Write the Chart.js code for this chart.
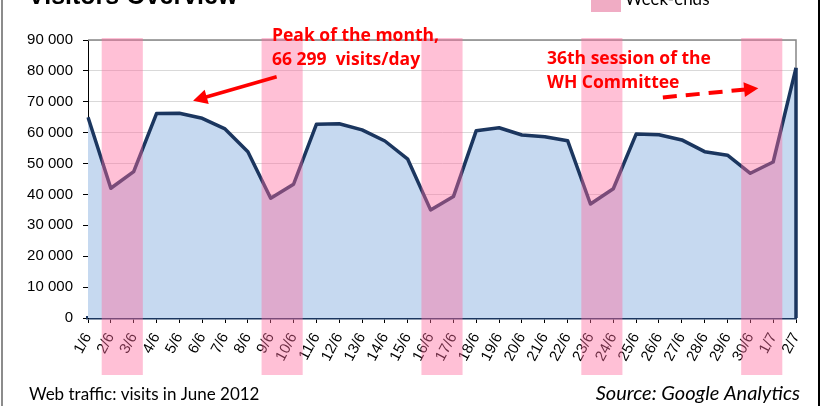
<!DOCTYPE html>
<html>
<head>
<meta charset="utf-8">
<script src="https://cdn.jsdelivr.net/npm/chart.js@4.4.0/dist/chart.umd.min.js"></script>
<style>
  html, body { margin: 0; padding: 0; background: #fff; }
</style>
</head>
<body>
<canvas id="chart" width="825" height="406"></canvas>
<script>
// visits per day, June 2012
let days = ['1/6','2/6','3/6','4/6','5/6','6/6','7/6','8/6','9/6','10/6','11/6','12/6','13/6','14/6','15/6','16/6',
            '17/6','18/6','19/6','20/6','21/6','22/6','23/6','24/6','25/6','26/6','27/6','28/6','29/6','30/6','1/7','2/7'];
let visits = [65000, 42000, 47400, 66200, 66299, 64650, 61200, 53850, 38800, 43300, 62700, 62900, 60900, 57300, 51400, 35000,
              39300, 60650, 61600, 59250, 58700, 57400, 36900, 41850, 59550, 59350, 57650, 53850, 52700, 46850, 50500, 81000];
let weekEnds = [['2/6','3/6'], ['9/6','10/6'], ['16/6','17/6'], ['23/6','24/6'], ['30/6','1/7']];
let yMax = 90000;
let yStep = 10000;

let navy = '#1B365F';
let bandColor = 'rgba(255, 105, 157, 0.42)';
let red = '#FF0000';

let fmt = function (v) {
    return String(v).replace(/\B(?=(\d{3})+(?!\d))/g, ' ');
}

let arrow = function (ctx, x1, y1, x2, y2, dashed) {
    let a = Math.atan2(y2 - y1, x2 - x1);
    let head = 16;
    ctx.save();
    ctx.strokeStyle = red;
    ctx.fillStyle = red;
    ctx.lineWidth = dashed ? 4 : 3.5;
    if (dashed) ctx.setLineDash([14, 9]);
    ctx.beginPath();
    ctx.moveTo(x1, y1);
    ctx.lineTo(x2 - Math.cos(a) * head * 0.8, y2 - Math.sin(a) * head * 0.8);
    ctx.stroke();
    ctx.setLineDash([]);
    ctx.beginPath();
    ctx.moveTo(x2, y2);
    ctx.lineTo(x2 - head * Math.cos(a - 0.48), y2 - head * Math.sin(a - 0.48));
    ctx.lineTo(x2 - head * Math.cos(a + 0.48), y2 - head * Math.sin(a + 0.48));
    ctx.closePath();
    ctx.fill();
    ctx.restore();
}

let overlay = {
    id: 'overlay',
    beforeDraw: function (chart) {
        let ctx = chart.ctx;
        ctx.save();
        ctx.fillStyle = '#fff';
        ctx.fillRect(0, 0, chart.width, chart.height);
        ctx.restore();
    },
    afterDraw: function (chart) {
        let ctx = chart.ctx;
        let x = chart.scales.x;
        let y = chart.scales.y;
        let area = chart.chartArea;
        let step = x.getPixelForValue(1) - x.getPixelForValue(0);

        ctx.save();
        // plot frame (top + right)
        ctx.strokeStyle = '#868686';
        ctx.lineWidth = 1.5;
        ctx.beginPath();
        ctx.moveTo(area.left, area.top);
        ctx.lineTo(area.right, area.top);
        ctx.lineTo(area.right, area.bottom);
        ctx.stroke();

        // closing edge of the area
        let last = visits.length - 1;
        ctx.strokeStyle = navy;
        ctx.lineWidth = 3.5;
        ctx.beginPath();
        ctx.moveTo(x.getPixelForValue(last), y.getPixelForValue(visits[last]));
        ctx.lineTo(x.getPixelForValue(last), y.getPixelForValue(0));
        ctx.stroke();

        // week-end bands
        ctx.fillStyle = bandColor;
        for (let w of weekEnds) {
            let x1 = x.getPixelForValue(days.indexOf(w[0])) - step * 0.4;
            let x2 = x.getPixelForValue(days.indexOf(w[1])) + step * 0.4;
            ctx.fillRect(x1, area.top - 2, x2 - x1, area.bottom - area.top + 59);
        }

        // outer frame
        ctx.strokeStyle = '#8C8C8C';
        ctx.lineWidth = 2;
        ctx.beginPath();
        ctx.moveTo(2, 0);
        ctx.lineTo(2, chart.height);
        ctx.stroke();
        ctx.strokeStyle = '#000';
        ctx.beginPath();
        ctx.moveTo(819, 0);
        ctx.lineTo(819, chart.height);
        ctx.stroke();

        // title (cut at the top)
        ctx.fillStyle = '#000';
        ctx.font = 'bold 25px "Liberation Sans", Arial, sans-serif';
        ctx.textBaseline = 'alphabetic';
        ctx.fillText('Visitors Overview', 28, 4);

        // legend
        ctx.fillStyle = '#F0ACC4';
        ctx.fillRect(591, -6, 30, 18);
        ctx.fillStyle = '#000';
        ctx.font = '17px Lato, "Open Sans", sans-serif';
        ctx.fillText('Week-ends', 625, 5);

        // annotations
        ctx.fillStyle = red;
        ctx.font = 'bold 17.5px "Open Sans", Lato, sans-serif';
        ctx.textBaseline = 'alphabetic';
        ctx.fillText('Peak of the month,', 272, 41);
        ctx.fillText('66 299  visits/day', 272, 65);
        ctx.fillText('36th session of the', 547, 64);
        ctx.fillText('WH Committee', 547, 88);

        arrow(ctx, x.getPixelForValue(8.26), y.getPixelForValue(78100),
                   x.getPixelForValue(4.6), y.getPixelForValue(70300), false);
        arrow(ctx, x.getPixelForValue(25.17), y.getPixelForValue(71400),
                   x.getPixelForValue(29.35), y.getPixelForValue(74400), true);

        // footer
        ctx.fillStyle = '#000';
        ctx.font = '17px Lato, "Open Sans", sans-serif';
        ctx.textBaseline = 'middle';
        ctx.fillText('Web traffic: visits in June 2012', 29, 395);
        ctx.font = 'italic 20px Lato, "Open Sans", sans-serif';
        ctx.textAlign = 'right';
        ctx.fillText('Source: Google Analytics', 800, 394);
        ctx.restore();
    }
};

const ctx = document.getElementById("chart");

new Chart(ctx, {
    type: 'line',
    data: {
        labels: days,
        datasets: [{
            label: 'Visits',
            data: visits,
            fill: 'origin',
            backgroundColor: '#C6D9F0',
            borderColor: navy,
            borderWidth: 3.5,
            borderJoinStyle: 'round',
            pointRadius: 0,
            tension: 0
        }]
    },
    options: {
        responsive: false,
        animation: false,
        layout: { padding: { top: 40, right: 29, left: 0, bottom: 0 } },
        plugins: {
            legend: { display: false },
            tooltip: { enabled: false }
        },
        scales: {
            x: {
                offset: false,
                afterFit: function (scale) { scale.height = 88; },
                border: { color: navy, width: 3.5 },
                grid: { drawOnChartArea: false, drawTicks: true, tickLength: 5, tickColor: '#000' },
                ticks: {
                    autoSkip: false,
                    minRotation: 62,
                    maxRotation: 62,
                    padding: 7,
                    color: '#000',
                    font: { family: '"Liberation Sans", Arial, sans-serif', size: 15 }
                }
            },
            y: {
                min: 0,
                max: yMax,
                afterFit: function (scale) { scale.width = 88; },
                border: { color: '#000', width: 1 },
                grid: {
                    color: function (c) { return c.tick && c.tick.value === 0 ? 'rgba(0,0,0,0)' : '#D9D9D9'; },
                    tickLength: 5,
                    tickColor: '#000'
                },
                ticks: {
                    stepSize: yStep,
                    padding: 10,
                    color: '#000',
                    font: { family: '"Liberation Sans", Arial, sans-serif', size: 15 },
                    callback: function (v) { return fmt(v); }
                }
            }
        }
    },
    plugins: [overlay]
});
</script>
</body>
</html>
